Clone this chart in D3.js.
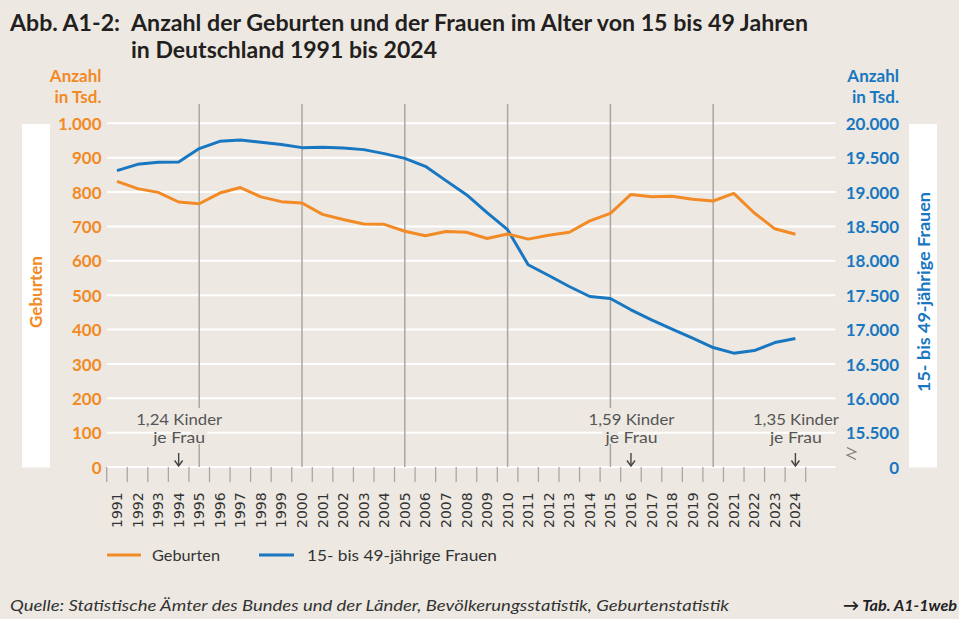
<!DOCTYPE html>
<html><head><meta charset="utf-8">
<script src="https://cdn.jsdelivr.net/npm/d3@7"></script>
<style>
html,body{margin:0;padding:0;background:#ede9e2;}
svg{display:block;}
</style></head>
<body>
<script>
const years = d3.range(1991, 2025);
const geburten = [831,810,799,771,766,797,813,786,772,768,735,720,707,706,686,673,685,683,665,678,663,674,683,716,738,793,786,788,779,774,796,739,693,677];
const frauen = [19311,19403,19432,19438,19632,19738,19758,19723,19690,19646,19651,19642,19617,19559,19490,19374,19166,18962,18700,18452,17942,17786,17626,17480,17451,17287,17141,17006,16875,16738,16656,16694,16810,16869];
const leftTicks = [0,100,200,300,400,500,600,700,800,900,1000];
const rightTicks = [15500,16000,16500,17000,17500,18000,18500,19000,19500,20000];
const markerYears = [1995,2000,2005,2010,2015,2020];
const annotations = [
  {year:1994, line1:"1,24 Kinder", line2:"je Frau"},
  {year:2016, line1:"1,59 Kinder", line2:"je Frau"},
  {year:2024, line1:"1,35 Kinder", line2:"je Frau"}
];
const seriesNames = ["Geburten","15- bis 49-jährige Frauen"];

const W=959,H=619;
const ORANGE="#f28a26", BLUE="#1877c0", BG="#ede9e2", TXT="#231f20";
const FONT="Lato, 'Noto Sans', sans-serif";

const svg=d3.select("body").append("svg").attr("width",W).attr("height",H)
  .style("font-family",FONT);
svg.append("rect").attr("width",W).attr("height",H).attr("fill",BG);

const x=d3.scaleBand().domain(years).range([106.7,805.7]).padding(0);
const xc=d=>x(d)+x.bandwidth()/2;
const yL=d3.scaleLinear().domain([0,1000]).range([467,123.3]);
const yR=d3.scaleLinear().domain([15000,20000]).range([467,123.3]);
const gridX0=107, gridX1=835.5;

// title
const t=svg.append("g").attr("fill",TXT).attr("font-weight","bold").attr("font-size",22);
t.append("text").attr("x",10).attr("y",31).attr("textLength",110).attr("lengthAdjust","spacingAndGlyphs").text("Abb. A1-2:");
t.append("text").attr("x",131).attr("y",31).attr("textLength",677).attr("lengthAdjust","spacingAndGlyphs").text("Anzahl der Geburten und der Frauen im Alter von 15 bis 49 Jahren");
t.append("text").attr("x",131).attr("y",58).attr("textLength",306).attr("lengthAdjust","spacingAndGlyphs").text("in Deutschland 1991 bis 2024");

// unit labels
const ul=svg.append("g").attr("font-weight","bold").attr("font-size",17).attr("text-anchor","end");
ul.append("text").attr("x",101.5).attr("y",82).attr("fill",ORANGE).text("Anzahl");
ul.append("text").attr("x",101.5).attr("y",103).attr("fill",ORANGE).text("in Tsd.");
ul.append("text").attr("x",899).attr("y",82).attr("fill",BLUE).text("Anzahl");
ul.append("text").attr("x",899).attr("y",103).attr("fill",BLUE).text("in Tsd.");

// side boxes
svg.append("rect").attr("x",22).attr("y",124).attr("width",28).attr("height",343.5).attr("fill","#fff");
svg.append("rect").attr("x",909).attr("y",124).attr("width",28).attr("height",343.5).attr("fill","#fff");
svg.append("text").attr("transform","translate(41.5,292) rotate(-90)").attr("text-anchor","middle")
  .attr("fill",ORANGE).attr("font-weight","bold").attr("font-size",17).text(seriesNames[0]);
svg.append("text").attr("transform","translate(930,292) rotate(-90)").attr("text-anchor","middle")
  .attr("fill",BLUE).attr("font-weight","bold").attr("font-size",17).attr("textLength",200).attr("lengthAdjust","spacingAndGlyphs").text(seriesNames[1]);

// gridlines
svg.append("g").selectAll("line").data(leftTicks).join("line")
  .attr("x1",gridX0).attr("x2",gridX1).attr("y1",d=>yL(d)).attr("y2",d=>yL(d))
  .attr("stroke","#fff").attr("stroke-width",2);

// vertical marker lines
svg.append("g").selectAll("line").data(markerYears).join("line")
  .attr("x1",d=>xc(d)).attr("x2",d=>xc(d)).attr("y1",104).attr("y2",467)
  .attr("stroke","#a9a7a5").attr("stroke-width",1.5);

// masks behind annotation text for marker lines
svg.append("g").selectAll("rect").data([1995,2015]).join("rect")
  .attr("x",d=>xc(d)-8).attr("width",16).attr("y",408).attr("height",36).attr("fill",BG);

// x tick marks at band boundaries
const bounds=years.map(d=>x(d)).concat([x(years[years.length-1])+x.bandwidth()]);
svg.append("g").selectAll("line").data(bounds).join("line")
  .attr("x1",d=>d).attr("x2",d=>d).attr("y1",467).attr("y2",482)
  .attr("stroke","#a9a7a5").attr("stroke-width",1.3);

// x labels via axis
const xAxis=svg.append("g").attr("transform","translate(0,493)")
  .call(d3.axisBottom(x).tickSize(0).tickPadding(0).tickFormat(d=>String(d)));
xAxis.select(".domain").remove();
xAxis.selectAll("text").attr("transform","rotate(-90)").attr("text-anchor","start")
  .attr("x",-35).attr("y",0).attr("dy","0.36em")
  .attr("font-family","'DejaVu Sans', sans-serif").attr("font-size",14).attr("fill","#333");

// left axis labels
const fmt=d=>d3.format(",")(d).replace(/,/g,".");
const la=svg.append("g").attr("transform","translate(101.5,0)")
  .call(d3.axisLeft(yL).tickValues(leftTicks).tickSize(0).tickPadding(0).tickFormat(fmt));
la.select(".domain").remove();
la.selectAll("text").attr("fill",ORANGE).attr("font-weight","bold").attr("font-size",17).attr("font-family",FONT).attr("dy","0.36em");

// right axis labels
const ra=svg.append("g").attr("transform","translate(899,0)")
  .call(d3.axisLeft(yR).tickValues([15000].concat(rightTicks)).tickSize(0).tickPadding(0)
    .tickFormat(d=>d===15000?"0":fmt(d)));
ra.select(".domain").remove();
ra.selectAll("text").attr("fill",BLUE).attr("font-weight","bold").attr("font-size",17).attr("font-family",FONT).attr("dy","0.36em");

// axis break symbol
svg.append("path").attr("d","M847,447.5 L856,452 L847,455 L856,459.5")
  .attr("fill","none").attr("stroke","#777").attr("stroke-width",1.1);

// annotations
const an=svg.append("g").attr("fill","#555").attr("font-size",15).attr("text-anchor","middle");
annotations.forEach(a=>{
  an.append("text").attr("x",xc(a.year)+0.5).attr("y",425).attr("textLength",86).attr("lengthAdjust","spacingAndGlyphs").text(a.line1);
  an.append("text").attr("x",xc(a.year)+0.5).attr("y",443).attr("textLength",52).attr("lengthAdjust","spacingAndGlyphs").text(a.line2);
  const ax=xc(a.year);
  svg.append("line").attr("x1",ax).attr("x2",ax).attr("y1",453).attr("y2",465).attr("stroke","#444").attr("stroke-width",1.4);
  svg.append("path").attr("d",`M${ax-4},460.5 L${ax},466 L${ax+4},460.5`).attr("fill","none").attr("stroke","#444").attr("stroke-width",1.4);
});

// lines
const lineB=d3.line().x((d,i)=>xc(years[i])).y(d=>yR(d));
const lineO=d3.line().x((d,i)=>xc(years[i])).y(d=>yL(d));
svg.append("path").datum(frauen).attr("d",lineB).attr("fill","none").attr("stroke",BLUE).attr("stroke-width",3).attr("stroke-linejoin","round");
svg.append("path").datum(geburten).attr("d",lineO).attr("fill","none").attr("stroke",ORANGE).attr("stroke-width",3).attr("stroke-linejoin","round");

// legend
const lg=svg.append("g").attr("font-size",16).attr("fill","#333");
lg.append("line").attr("x1",107).attr("x2",141).attr("y1",555).attr("y2",555).attr("stroke",ORANGE).attr("stroke-width",3);
lg.append("text").attr("x",152).attr("y",561).attr("textLength",68).attr("lengthAdjust","spacingAndGlyphs").text(seriesNames[0]);
lg.append("line").attr("x1",259).attr("x2",294).attr("y1",555).attr("y2",555).attr("stroke",BLUE).attr("stroke-width",3);
lg.append("text").attr("x",307).attr("y",561).attr("textLength",190).attr("lengthAdjust","spacingAndGlyphs").text(seriesNames[1]);

// footer
svg.append("text").attr("x",10).attr("y",611).attr("font-style","italic").attr("font-size",16).attr("fill","#333")
  .attr("textLength",719).attr("lengthAdjust","spacingAndGlyphs")
  .text("Quelle: Statistische Ämter des Bundes und der Länder, Bevölkerungsstatistik, Geburtenstatistik");
svg.append("text").attr("x",957).attr("y",611).attr("text-anchor","end").attr("font-style","italic").attr("font-weight","bold").attr("font-size",16).attr("fill","#222")
  .attr("textLength",114).attr("lengthAdjust","spacingAndGlyphs")
  .text("→ Tab. A1-1web");
</script>
</body></html>
